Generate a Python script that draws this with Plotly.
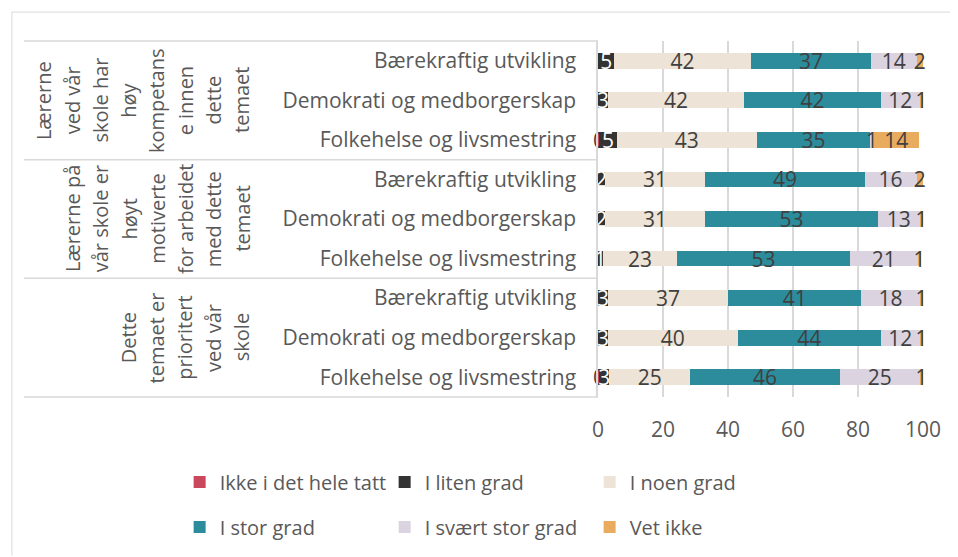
import plotly.graph_objects as go

# group labels (already wrapped the way the original shows them)
group_lines = [
    ["Lærerne", "ved vår", "skole har", "høy", "kompetans", "e innen", "dette", "temaet"],
    ["Lærerne på", "vår skole er", "høyt", "motiverte", "for arbeidet", "med dette", "temaet"],
    ["Dette", "temaet er", "prioritert", "ved vår", "skole"],
]
themes = ["Bærekraftig utvikling", "Demokrati og medborgerskap", "Folkehelse og livsmestring"]

series_names = ["Ikke i det hele tatt", "I liten grad", "I noen grad",
                "I stor grad", "I svært stor grad", "Vet ikke"]
colors = ["#c9485b", "#333333", "#ede3d6", "#2c8c9c", "#dbd4e0", "#e9ac5f"]

# percent per row, top to bottom
ikke = [0, 0, 0.4, 0, 0, 0, 0, 0, 0.4]
liten = [5, 3, 5.4, 2, 2, 1.4, 3, 3, 3]
noen = [42, 42, 43, 31, 31, 23, 37, 40, 25]
stor = [37, 42, 35, 49, 53, 53, 41, 44, 46]
svaert = [14, 12, 1, 16, 13, 21, 18, 12, 24.6]
vet = [2, 1, 14, 2, 1, 1, 1, 1, 1]

x_ticks = [0, 20, 40, 60, 80, 100]

values = [ikke, liten, noen, stor, svaert, vet]
rows = list(range(len(noen)))
row_labels = [t for _ in group_lines for t in themes]

FONT = "Open Sans"
GREY = "#595959"

# page has an 8px body margin, so figure is a bit smaller than the window
OFF = 8
W, H = 950, 549
L, R, T, B = 598, 923.5, 41, 398   # plot area in window pixels


def px_x(X):
    return (X - L) / (R - L)


def px_y(Y):
    return (B - Y) / (B - T)


fig = go.Figure()
for i, (name, col, vals) in enumerate(zip(series_names, colors, values)):
    fig.add_trace(go.Bar(
        y=rows, x=vals, name=name, orientation="h",
        marker=dict(color=col, line=dict(width=0)),
        texttemplate="%{x:.0f}", textposition="inside", insidetextanchor="middle",
        textangle=0, cliponaxis=False,
        textfont=dict(family=FONT, size=21, color="white" if i == 1 else "#404040"),
        legend="legend" if i < 3 else "legend2",
    ))

n = len(rows)
shapes = []
line_col = "#d9d9d9"
# outer frame (top and left edge)
shapes.append(dict(type="line", xref="paper", yref="paper", x0=px_x(11), x1=px_x(958),
                   y0=px_y(12), y1=px_y(12), line=dict(color=line_col, width=1)))
shapes.append(dict(type="line", xref="paper", yref="paper", x0=px_x(11), x1=px_x(11),
                   y0=px_y(12), y1=px_y(557), line=dict(color=line_col, width=1)))
# group separators
for g in range(len(group_lines) + 1):
    yb = (n - 0.5 - (g * len(themes) - 0.5)) / n
    shapes.append(dict(type="line", xref="paper", yref="paper", x0=px_x(23), x1=0,
                       y0=yb, y1=yb, line=dict(color=line_col, width=1.5)))

annotations = []
for g, lines in enumerate(group_lines):
    yc = g * len(themes) + (len(themes) - 1) / 2
    for i, txt in enumerate(lines):
        xc = 241 - (len(lines) - 1 - i) * 28.3
        annotations.append(dict(text=txt, xref="paper", yref="y", x=px_x(xc), y=yc,
                                xanchor="center", yanchor="middle", textangle=-90,
                                showarrow=False, font=dict(family=FONT, size=20, color=GREY)))

legend_style = dict(orientation="h", x=px_x(179), xanchor="left", yanchor="middle",
                    entrywidth=160, entrywidthmode="pixels", traceorder="normal",
                    font=dict(family=FONT, size=20, color=GREY), bgcolor="rgba(0,0,0,0)")

fig.update_layout(
    width=W, height=H,
    margin=dict(l=L - OFF, r=W - (R - OFF), t=T - OFF, b=H - (B - OFF), pad=0),
    barmode="stack", bargap=0.6,
    paper_bgcolor="white", plot_bgcolor="white",
    uniformtext=dict(mode="show", minsize=21),
    font=dict(family=FONT, color=GREY),
    shapes=shapes, annotations=annotations,
    legend=dict(legend_style, y=px_y(482)),
    legend2=dict(legend_style, y=px_y(527)),
    xaxis=dict(range=[0, 100], tickvals=x_ticks, showgrid=True, gridcolor=line_col, gridwidth=1.5,
               zeroline=False, showline=False, ticks="", ticklabelstandoff=18,
               tickfont=dict(family=FONT, size=21, color=GREY), fixedrange=True),
    yaxis=dict(range=[n - 0.5, -0.5], tickvals=rows, ticktext=row_labels, showgrid=False,
               zeroline=False, showline=True, linecolor=line_col, linewidth=1.5, ticks="",
               ticklabelstandoff=16, tickfont=dict(family=FONT, size=21, color=GREY), fixedrange=True),
)

fig.write_html("out.html")
